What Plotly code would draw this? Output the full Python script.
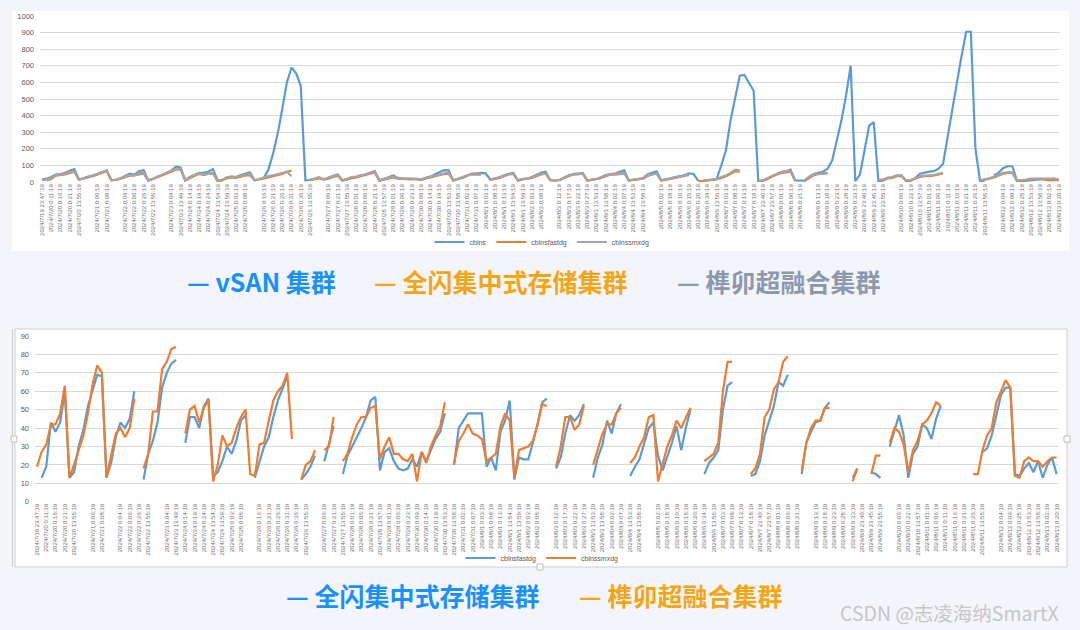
import plotly.graph_objects as go

N = None

# Category (timestamp) labels shown on both x axes; '' = no label shown at that slot
CATEGORY_LABELS = [
    "2024/7/19 23:47:19", "2024/7/20 0:11:19", "2024/7/20 0:16:19", "2024/7/20 0:21:19", "2024/7/20 13:55:19",
    "", "2024/7/21 0:06:19", "2024/7/21 0:08:19", "", "2024/7/22 0:04:19",
    "2024/7/22 0:06:19", "2024/7/22 0:26:19", "2024/7/22 13:55:19", "", "2024/7/23 0:04:19",
    "2024/7/23 13:49:19", "2024/7/24 0:14:19", "2024/7/24 0:19:19", "2024/7/24 0:24:19", "2024/7/24 13:54:19",
    "2024/7/24 13:59:19", "2024/7/25 0:03:19", "2024/7/25 0:08:19", "", "2024/7/26 0:16:19",
    "2024/7/26 0:21:19", "2024/7/26 0:26:19", "2024/7/26 0:31:19", "2024/7/26 0:36:19", "2024/7/26 13:55:19",
    "", "2024/7/27 0:06:19", "2024/7/27 0:21:19", "2024/7/27 13:55:19", "2024/7/28 0:01:19",
    "2024/7/28 0:06:19", "2024/7/28 0:21:19", "2024/7/28 13:57:19", "2024/7/29 0:01:19", "2024/7/29 0:06:19",
    "2024/7/29 0:23:19", "2024/7/30 0:09:19", "2024/7/30 0:14:19", "2024/7/30 0:19:19", "2024/7/30 13:53:19",
    "2024/7/30 13:58:19", "2024/7/31 0:02:19", "2024/7/31 0:07:19", "2024/8/1 0:03:19", "2024/8/1 0:08:19",
    "2024/8/1 0:13:19", "2024/8/1 13:54:19", "2024/8/1 13:59:19", "2024/8/2 0:03:19", "2024/8/2 0:08:19",
    "", "2024/8/3 0:12:19", "2024/8/3 0:17:19", "2024/8/3 0:22:19", "2024/8/3 0:27:19",
    "2024/8/3 13:53:19", "2024/8/3 13:58:19", "2024/8/4 0:02:19", "2024/8/4 0:07:19", "2024/8/4 13:53:19",
    "2024/8/4 13:58:19", "", "2024/8/5 0:02:19", "2024/8/5 0:18:19", "2024/8/6 0:10:19",
    "2024/8/6 0:15:19", "2024/8/6 0:20:19", "2024/8/6 0:34:19", "2024/8/6 13:56:19", "2024/8/7 0:03:19",
    "2024/8/7 0:08:19", "2024/8/7 0:13:19", "2024/8/7 0:18:19", "2024/8/7 23:40:19", "2024/8/7 23:57:19",
    "2024/8/8 0:01:19", "2024/8/8 0:06:19", "2024/8/8 0:21:19", "", "2024/8/9 0:13:19",
    "2024/8/9 0:18:19", "2024/8/9 0:23:19", "2024/8/9 0:28:19", "2024/8/9 0:33:19", "2024/8/9 23:40:19",
    "2024/8/9 23:45:19", "2024/8/9 23:55:19", "", "2024/8/10 0:06:19", "2024/8/10 0:22:19",
    "2024/8/10 13:57:19", "2024/8/11 0:01:19", "2024/8/11 0:06:19", "2024/8/11 0:11:19", "2024/8/11 0:16:19",
    "2024/8/11 0:21:19", "2024/8/11 0:26:19", "2024/8/11 13:55:19", "", "2024/8/12 0:04:19",
    "2024/8/12 0:09:19", "2024/8/12 0:25:19", "2024/8/12 13:53:19", "2024/8/12 13:58:19", "2024/8/13 0:02:19",
    "2024/8/13 0:20:19",
]
SAMPLES_PER_LABEL = 2

# ---- Top chart series (two samples per label slot) ----
TOP_CBLNS = [
    16, 20, 30, 45, 48, 55, 68, 78, 15, 20, 28, 38, 50, 62, 70, 12, 12, 22, 38, 50,
    45, 65, 72, 10, 18, 30, 40, 55, 70, 92, 88, 10, 30, 45, 55, 55, 62, 78, 10, 12,
    25, 32, 30, 42, 50, 58, 12, N, 25, 75, 170, 290, 440, 600, 690, 655, 580, 10, 12, 18,
    30, N, 25, 38, 45, 10, 15, 25, 30, 40, 45, 55, 66, 10, 18, 28, 40, 25, 22, 20,
    22, 20, 15, 25, 32, 45, 60, 72, 70, 10, 18, 25, 38, 50, 50, 55, 52, 15, 20, 30,
    40, 50, 55, 10, 18, 20, 30, 42, 55, 62, 10, N, 10, 25, 40, 48, 52, 55, 10, 15,
    18, 28, 42, 48, 50, 62, 70, 10, 15, 18, 22, 45, 55, 64, 10, 14, 22, 30, 35, 40,
    52, 48, 8, N, 10, 15, 18, 100, 190, 370, 510, 640, 645, 595, 550, 5, 8, 20, 35, 50,
    60, 65, 75, 10, 8, 8, 30, 48, 55, 62, 80, 130, 250, 370, 520, 700, 5, 45, 190, 340,
    360, 5, 8, 25, 28, 38, 40, 5, 8, 25, 50, 58, 62, 65, 80, 110, 280, 430, 600, 760,
    905, 905, 200, 5, 8, N, 40, 55, 85, 95, 95, 5, 5, 8, 10, 15, 18, 18, 15, 20, 15, N,
]
TOP_CBLNSFASTDG = [
    N, 10, 18, 38, 42, 45, 55, 62, 12, 22, 32, 35, 45, 55, 65, 10, 12, 20, 30, 38,
    40, 48, 52, 8, 18, 30, 38, 50, 62, 75, 75, 8, 25, 38, 48, 42, 50, 52, 5, 10,
    22, 28, 25, 32, 40, 42, 10, 15, 20, 28, 35, 40, 48, 62, 68, N, N, N, 12, 18,
    22, 15, 20, 30, 38, 8, 18, 25, 28, 35, 42, 50, 58, 8, 15, 22, 28, 20, 18, 16,
    15, 18, 12, 20, 28, 35, 42, 48, 50, 8, 18, 30, 38, 48, 48, 48, N, 12, 18, 25,
    35, 45, 50, 8, 15, 18, 25, 35, 45, 50, 10, 8, 12, 25, 35, 45, 48, 50, 8, 12,
    18, 25, 35, 45, 45, 48, 52, 8, 12, 18, 20, 35, 45, 50, 8, 12, 18, 25, 30, 35,
    42, N, 5, 5, 10, 12, 15, 25, 35, 50, 65, 62, N, N, N, 5, 8, 18, 35, 45,
    55, 58, 62, 8, N, 5, 25, 40, 48, 48, 52, N, N, N, N, N, 5, N, N, N,
    N, 12, 10, 22, 25, 35, 35, 8, 10, 20, 30, 35, 35, 40, 48, 52, N, N, N, N,
    N, N, N, 8, 12, 20, 28, 40, 50, 55, 55, 5, 8, 12, 18, 18, 18, 15, 10, 12, 10, N,
]
TOP_CBLNSSMXDG = [
    12, 14, 22, 42, 45, 50, 60, 65, 14, 22, 30, 38, 50, 60, 68, 12, 14, 22, 32, 42,
    40, 52, 58, 10, 20, 32, 45, 55, 68, 80, 78, 10, 28, 42, 52, 45, 52, 55, 8, 12,
    28, 32, 30, 38, 45, 48, 10, 18, 28, 35, 40, 48, 55, 62, 35, N, N, N, 14, 20,
    28, 18, 25, 35, 45, 10, 20, 30, 32, 40, 45, 52, 60, 10, 18, 25, 32, 22, 20, 20,
    20, 20, 15, 22, 30, 40, 48, 52, 55, 10, 20, 32, 40, 45, 45, 45, N, 15, 20, 28,
    38, 48, 48, 10, 18, 20, 28, 38, 48, 52, 12, 10, 12, 25, 38, 45, 48, 50, 10, 12,
    18, 28, 38, 45, 48, 50, 55, 10, 14, 18, 22, 40, 48, 52, 10, 14, 20, 28, 32, 38,
    45, N, N, 8, 12, 15, 18, 30, 40, 55, 75, 70, N, N, N, 8, 10, 22, 38, 50,
    60, 62, 68, 10, N, 8, 30, 45, 50, 52, 55, N, N, N, N, N, 8, N, N, N,
    N, 15, 15, 25, 28, 40, 38, 10, 12, 22, 35, 38, 40, 42, 50, 55, N, N, N, N,
    N, N, N, 10, 15, 22, 32, 45, 55, 58, 58, 8, 10, 15, 20, 20, 20, 20, 18, 20, 15, N,
]

# ---- Bottom chart series ----
BOT_CBLNSFASTDG = [
    N, 13, 19, 43, 38, 43, 60, 13, 16, 30, 39, 52, 60, 69, 68, 13, 21, 35, 43, 40,
    45, 60, N, 12, 26, 33, 43, 62, 70, 75, 77, N, 32, 46, 46, 40, 52, 56, 14, 16,
    22, 30, 26, 33, 44, 47, N, 13, 21, 30, 35, 46, 55, 61, 68, N, N, 12, 15, 19,
    25, N, 22, 32, 41, N, 15, 25, 30, 35, 40, 46, 55, 57, 17, 27, 29, 22, 18, 17,
    18, 23, 19, 27, 22, 28, 34, 38, 48, N, 20, 40, 44, 48, 48, 48, 48, 19, 24, 17,
    38, 44, 55, 12, 24, 23, 23, 32, 42, 54, 56, N, 18, 24, 37, 47, 44, 47, 53, N,
    13, 24, 31, 44, 37, 48, 53, N, 14, 19, 23, 32, 40, 43, 25, 17, 24, 32, 41, 28,
    40, 50, N, N, 15, 21, 24, 28, 50, 63, 65, N, N, N, 14, 15, 22, 36, 44, 52,
    65, 63, 69, N, N, 15, 32, 38, 43, 44, 51, 54, N, N, N, N, 13, 18, N, N,
    16, 15, 13, N, 30, 38, 47, 36, 13, 26, 30, 42, 40, 34, 45, 52, N, N, N, N,
    N, N, N, N, 27, 29, 36, 48, 58, 62, 62, 15, 14, 18, 21, 16, 22, 13, 20, 24, 15, N,
]
BOT_CBLNSSMXDG = [
    19, 27, 31, 42, 42, 48, 63, 13, 20, 28, 36, 48, 64, 74, 70, 13, 25, 37, 40, 35,
    40, 56, N, 18, 26, 49, 49, 72, 76, 83, 84, N, 37, 50, 52, 43, 51, 55, 11, 20,
    36, 30, 32, 40, 46, 50, 15, 14, 31, 32, 44, 55, 60, 63, 70, 34, N, 12, 20, 22,
    28, N, 28, 30, 46, N, 22, 26, 35, 42, 46, 46, 51, 52, 23, 30, 35, 26, 26, 23,
    22, 26, 11, 27, 21, 30, 36, 41, 54, N, 21, 33, 37, 42, 37, 36, 34, 22, 24, 26,
    41, 48, 44, 13, 28, 29, 30, 33, 42, 53, 52, N, 19, 30, 46, 46, 39, 42, 52, N,
    20, 28, 37, 42, 42, 48, 51, N, 21, 24, 30, 35, 46, 47, 11, 21, 30, 36, 44, 40,
    46, 51, N, N, 22, 24, 26, 32, 60, 76, 76, N, N, N, 15, 18, 26, 46, 50, 61,
    65, 76, 79, N, N, 17, 32, 40, 44, 44, 51, 51, N, N, N, N, 11, 18, N, N,
    15, 25, 25, N, 32, 40, 38, 31, 16, 28, 33, 42, 44, 48, 54, 52, N, N, N, N,
    N, N, 15, 15, 28, 36, 40, 54, 60, 66, 62, 14, 13, 22, 24, 22, 22, 19, 22, 24, 24, N,
]

W, H = 1080, 630
PAGE_BG = "#f3f5fa"
BLUE, ORANGE, GRAY = "#5B9BD5", "#ED7D31", "#A5A5A5"
AXIS_TXT = "#595959"
GRID = "#d9d9d9"


def px(xp):
    return xp / W


def py(yp):
    return 1 - yp / H


tickvals = [i * SAMPLES_PER_LABEL for i, t in enumerate(CATEGORY_LABELS) if t]
ticktext = [t for t in CATEGORY_LABELS if t]

fig = go.Figure()

top_idx = list(range(len(TOP_CBLNS)))
for name, vals, col in [("cblns", TOP_CBLNS, BLUE),
                        ("cblnsfastdg", TOP_CBLNSFASTDG, ORANGE),
                        ("cblnssmxdg", TOP_CBLNSSMXDG, GRAY)]:
    fig.add_trace(go.Scatter(x=top_idx, y=vals, mode="lines", name=name,
                             line=dict(color=col, width=2.2), connectgaps=False,
                             xaxis="x", yaxis="y", legend="legend", hoverinfo="skip"))

bot_idx = list(range(len(BOT_CBLNSFASTDG)))
for name, vals, col in [("cblnsfastdg", BOT_CBLNSFASTDG, BLUE),
                        ("cblnssmxdg", BOT_CBLNSSMXDG, ORANGE)]:
    fig.add_trace(go.Scatter(x=bot_idx, y=vals, mode="lines", name=name,
                             line=dict(color=col, width=2.2), connectgaps=False,
                             xaxis="x2", yaxis="y2", legend="legend2", hoverinfo="skip"))

xcommon = dict(tickmode="array", tickvals=tickvals, ticktext=ticktext, tickangle=-90,
               tickfont=dict(size=6, color="#6e6e6e", family="Liberation Sans"),
               showgrid=False, zeroline=False, showline=False, ticks="", fixedrange=True,
               automargin=False)
ycommon = dict(tickfont=dict(size=7.5, color=AXIS_TXT, family="Liberation Sans"),
               showgrid=True, gridcolor=GRID, gridwidth=1, zeroline=False, showline=False,
               ticks="", ticklabelstandoff=5, fixedrange=True, automargin=False)

fig.update_layout(
    width=W, height=H,
    margin=dict(l=0, r=0, t=0, b=0, autoexpand=False),
    paper_bgcolor=PAGE_BG, plot_bgcolor="rgba(0,0,0,0)",
    xaxis=dict(domain=[px(40), px(1060)], range=[-0.43, 220.3], anchor="y", **xcommon),
    yaxis=dict(domain=[py(182), py(16)], range=[0, 1000], dtick=100, anchor="x", **ycommon),
    xaxis2=dict(domain=[px(35), px(1058)], range=[-0.43, 220.3], anchor="y2", **xcommon),
    yaxis2=dict(domain=[py(501.7), py(336)], range=[0, 90], dtick=10, anchor="x2", **ycommon),
    legend=dict(orientation="h", x=px(542), xanchor="center", y=py(242), yanchor="middle",
                font=dict(size=7, color=AXIS_TXT, family="Liberation Sans"),
                bgcolor="rgba(0,0,0,0)", itemwidth=30),
    legend2=dict(orientation="h", x=px(542), xanchor="center", y=py(558), yanchor="middle",
                 font=dict(size=7, color=AXIS_TXT, family="Liberation Sans"),
                 bgcolor="rgba(0,0,0,0)", itemwidth=30),
    showlegend=True,
)

shapes = [
    # top white panel
    dict(type="rect", xref="paper", yref="paper", x0=px(12), x1=px(1069), y0=py(251), y1=py(11),
         fillcolor="white", line=dict(width=0), layer="below"),
    # bottom white panel with thin border
    dict(type="rect", xref="paper", yref="paper", x0=px(15), x1=px(1067), y0=py(567), y1=py(329),
         fillcolor="white", line=dict(color="#cfcfcf", width=1), layer="below"),
    dict(type="line", xref="paper", yref="paper", x0=px(12.5), x1=px(12.5), y0=py(567), y1=py(329),
         line=dict(color="#cfcfcf", width=1), layer="below"),
]
for hx, hy in [(14, 439), (1067, 439), (540, 567)]:
    shapes.append(dict(type="rect", xref="paper", yref="paper",
                       x0=px(hx - 3), x1=px(hx + 3), y0=py(hy + 3), y1=py(hy - 3),
                       fillcolor="white", line=dict(color="#bdbdbd", width=1), layer="above"))
fig.update_layout(shapes=shapes)

CJK = "Noto Sans CJK SC"
C_BLUE, C_ORANGE, C_GRAY = "#1890ff", "#f5a514", "#8c98ad"
ann = []
for text, col, x0, y0 in [("— vSAN 集群", C_BLUE, 185, 281),
                          ("— 全闪集中式存储集群", C_ORANGE, 372, 281),
                          ("— 榫卯超融合集群", C_GRAY, 675, 281),
                          ("— 全闪集中式存储集群", C_BLUE, 284, 595),
                          ("— 榫卯超融合集群", C_ORANGE, 577, 595)]:
    ann.append(dict(text=text, xref="paper", yref="paper", x=px(x0), y=py(y0),
                    xanchor="left", yanchor="middle", showarrow=False,
                    font=dict(family=CJK, size=25, color=col, weight="bold")))
ann.append(dict(text="CSDN @志凌海纳SmartX", xref="paper", yref="paper", x=px(1061), y=py(612),
                xanchor="right", yanchor="middle", showarrow=False,
                font=dict(family=CJK, size=19.5, color="#c6c6c6")))
fig.update_layout(annotations=ann)

fig.write_html(
    "out.html",
    config={"displayModeBar": False, "staticPlot": True},
    post_script="document.body.style.margin='0';document.body.style.background='" + PAGE_BG + "';",
)
